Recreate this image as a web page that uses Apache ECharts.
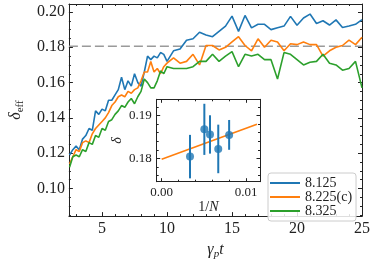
<!DOCTYPE html>
<html><head><meta charset="utf-8">
<script src="https://cdn.jsdelivr.net/npm/echarts@6/dist/echarts.min.js"></script>
<style>html,body{margin:0;padding:0;background:#fff}#c{width:374px;height:265px}</style>
</head><body><div id="c"></div>
<script>
// ---- data ----
const tValues = [2.5,2.75,3,3.25,3.5,3.75,4,4.25,4.5,4.75,5,5.25,5.5,5.75,6,6.25,6.5,6.75,7,7.25,7.5,7.75,8,8.25,8.5,8.75,9,9.25,9.5,9.75,10,
  10.5,11,11.5,12,12.5,13,13.5,14,14.5,15,15.5,16,16.5,17,17.5,18,18.5,19,19.5,20,20.5,21,21.5,22,22.5,23,23.5,24,24.5,25];
const delta8125 = [0.119,0.122,0.124,0.122,0.128,0.130,0.134,0.133,0.144,0.142,0.145,0.144,0.150,0.150,0.153,0.156,0.163,0.156,0.161,0.158,0.165,0.160,0.158,0.166,0.175,0.173,0.175,0.174,0.177,0.176,0.172,
  0.178,0.179,0.184,0.1848,0.1885,0.187,0.186,0.189,0.192,0.1976,0.189,0.198,0.191,0.193,0.193,0.190,0.191,0.192,0.1975,0.1925,0.1966,0.1988,0.1935,0.195,0.1926,0.1955,0.1912,0.192,0.193,0.1956];
const delta8225 = [0.114,0.118,0.122,0.121,0.126,0.127,0.126,0.131,0.134,0.136,0.138,0.140,0.143,0.147,0.149,0.152,0.153,0.152,0.155,0.154,0.156,0.157,0.161,0.166,0.166,0.172,0.166,0.168,0.165,0.169,0.171,
  0.174,0.171,0.172,0.176,0.170,0.181,0.181,0.1785,0.180,0.183,0.186,0.181,0.178,0.1848,0.180,0.184,0.183,0.178,0.182,0.1815,0.183,0.1815,0.1815,0.175,0.178,0.180,0.181,0.184,0.1815,0.1857];
const delta8325 = [0.112,0.118,0.119,0.118,0.122,0.121,0.126,0.125,0.130,0.129,0.134,0.133,0.138,0.139,0.142,0.144,0.147,0.146,0.149,0.151,0.148,0.152,0.155,0.162,0.160,0.157,0.157,0.161,0.1666,0.165,0.169,
  0.168,0.168,0.168,0.169,0.172,0.172,0.176,0.172,0.175,0.1775,0.169,0.176,0.175,0.176,0.173,0.173,0.162,0.177,0.176,0.173,0.170,0.1715,0.172,0.176,0.171,0.170,0.167,0.168,0.172,0.157];
const seriesNames = ['8.125','8.225(c)','8.325'];
const refLevel = 0.1806;
const refSpan = [2.45, 25];

const insetInvN = [0.00336,0.00506,0.00573,0.00671,0.0080];
const insetDelta = [0.1804,0.1868,0.1856,0.1822,0.1855];
const insetErr = [0.0051,0.0060,0.0045,0.0057,0.0035];
const fitInvN = [0, 0.0113];
const fitDelta = [0.1798, 0.1880];

// tick labels / tick positions
const xMajorMain = [5,10,15,20,25];
const xMinorMain = [3,4,6,7,8,9,11,12,13,14,16,17,18,19,21,22,23,24];
const yMajorMain = [0.10,0.12,0.14,0.16,0.18,0.20];
const yMinorMain = [0.085,0.09,0.095,0.105,0.11,0.115,0.125,0.13,0.135,0.145,0.15,0.155,0.165,0.17,0.175,0.185,0.19,0.195];
const xMajorInset = [0, 0.01];
const xMinorInset = [0.002,0.004,0.006,0.008];
const yMajorInset = [0.18, 0.19];
const yMinorInset = [0.176,0.178,0.182,0.184,0.186,0.188,0.192];

// ---- chart ----
const FONT = 'Liberation Serif';
const INK = '#222';
const COLORS = ['#1f77b4','#ff7f0e','#2ca02c'];
const chart = echarts.init(document.getElementById('c'), null, {renderer:'canvas'});

function ax(grid, pos, min, max, ticks, len, opt) {
  opt = opt || {};
  const a = {
    type:'value', gridIndex:grid, position:pos, min:min, max:max, z: opt.z || 0,
    axisLine:{show:!!opt.line, onZero:false, lineStyle:{color:INK, width:1}},
    axisTick:{show:true, inside:true, length:len, customValues:ticks, lineStyle:{color:INK, width:1}},
    axisLabel:{show:false},
    splitLine:{show:false}
  };
  if (opt.label) {
    a.axisLabel = Object.assign({show:true, customValues:ticks, fontFamily:FONT, color:INK}, opt.label);
  }
  if (opt.name) Object.assign(a, opt.name);
  return a;
}

const X0 = 2.45, X1 = 25, Y0 = 0.0844, Y1 = 0.2045;
const IX0 = -0.00059, IX1 = 0.01166, IY0 = 0.17451, IY1 = 0.19385;

const xAxes = [
  ax(0,'bottom',X0,X1,xMajorMain,4,{line:true, label:{fontSize:16, margin:5},
     name:{name:'{g|γ}{p|p}{t|t}', nameLocation:'middle', nameGap:17,
       nameTextStyle:{rich:{g:{fontFamily:FONT,fontStyle:'italic',fontSize:16,lineHeight:20,color:INK},
                            p:{fontFamily:FONT,fontStyle:'italic',fontSize:11,lineHeight:12,verticalAlign:'bottom',color:INK},
                            t:{fontFamily:FONT,fontStyle:'italic',fontSize:16,lineHeight:20,color:INK}}}}}),
  ax(0,'bottom',X0,X1,xMinorMain,2),
  ax(0,'top',X0,X1,xMajorMain,4,{line:true}),
  ax(0,'top',X0,X1,xMinorMain,2),
  ax(1,'bottom',IX0,IX1,xMajorInset,3.5,{line:true, z:20, label:{fontSize:13, margin:4, formatter:v=>v.toFixed(2)},
     name:{name:'1/{n|N}', nameLocation:'middle', nameGap:15,
       nameTextStyle:{fontFamily:FONT,fontSize:14,color:INK,lineHeight:16,rich:{n:{fontFamily:FONT,fontStyle:'italic',fontSize:14,lineHeight:16,color:INK}}}}}),
  ax(1,'bottom',IX0,IX1,xMinorInset,2,{z:20}),
  ax(1,'top',IX0,IX1,xMajorInset,3.5,{line:true, z:20}),
  ax(1,'top',IX0,IX1,xMinorInset,2,{z:20})
];
const yAxes = [
  ax(0,'left',Y0,Y1,yMajorMain,4,{line:true, label:{fontSize:16, margin:4, formatter:v=>v.toFixed(2)},
     name:{name:'{d|δ}{s|eff}', nameLocation:'middle', nameGap:30, nameRotate:90,
       nameTextStyle:{rich:{d:{fontFamily:FONT,fontStyle:'italic',fontSize:16,lineHeight:20,color:INK},
                            s:{fontFamily:FONT,fontSize:11,lineHeight:12,verticalAlign:'bottom',color:INK}}}}}),
  ax(0,'left',Y0,Y1,yMinorMain,2),
  ax(0,'right',Y0,Y1,yMajorMain,4,{line:true}),
  ax(0,'right',Y0,Y1,yMinorMain,2),
  ax(1,'left',IY0,IY1,yMajorInset,3.5,{line:true, z:20, label:{fontSize:13, margin:5, formatter:v=>v.toFixed(2)},
     name:{name:'δ', nameLocation:'middle', nameGap:30, nameRotate:90,
       nameTextStyle:{fontFamily:FONT,fontStyle:'italic',fontSize:14,lineHeight:16,color:INK}}}),
  ax(1,'left',IY0,IY1,yMinorInset,2,{z:20}),
  ax(1,'right',IY0,IY1,yMajorInset,3.5,{line:true, z:20}),
  ax(1,'right',IY0,IY1,yMinorInset,2,{z:20})
];

const mainData = [delta8125, delta8225, delta8325];
const series = mainData.map((vals, k) => ({
  name: seriesNames[k], type:'line', xAxisIndex:0, yAxisIndex:0, showSymbol:false, symbol:'none',
  data: tValues.map((t,i) => [t, vals[i]]), color: COLORS[k],
  lineStyle:{width:1.6, color:COLORS[k]}, z:2 + k*0.01
}));
series.unshift({
  name:'ref', type:'line', xAxisIndex:0, yAxisIndex:0, symbol:'none', silent:true,
  data: refSpan.map(t => [t, refLevel]),
  lineStyle:{width:1.5, color:'#9a9a9a', type:[9,4]}, z:1
});
series.push({
  name:'fit', type:'line', xAxisIndex:4, yAxisIndex:4, symbol:'none',
  data: fitInvN.map((x,i) => [x, fitDelta[i]]),
  lineStyle:{width:1.6, color:COLORS[1]}, color:COLORS[1], z:15
});
series.push({
  name:'err', type:'custom', xAxisIndex:4, yAxisIndex:4, z:16,
  data: insetInvN.map((x,i) => [x, insetDelta[i], insetErr[i]]),
  renderItem: function(params, api) {
    const x = api.value(0), y = api.value(1), e = api.value(2);
    const p1 = api.coord([x, y + e]), p2 = api.coord([x, y - e]);
    return {type:'line', shape:{x1:p1[0], y1:p1[1], x2:p2[0], y2:p2[1]}, style:{stroke:COLORS[0], lineWidth:2}};
  }
});
series.push({
  name:'pts', type:'scatter', xAxisIndex:4, yAxisIndex:4, z:17, symbolSize:8,
  data: insetInvN.map((x,i) => [x, insetDelta[i]]),
  itemStyle:{color:COLORS[0]}
});

chart.setOption({
  animation:false,
  backgroundColor:'#fff',
  grid:[
    {left:54, top:4, width:308, height:219.3, show:false},
    {left:156.7, top:99.3, width:103.3, height:82.4, show:true, backgroundColor:'#fff', borderWidth:0, z:10}
  ],
  xAxis:xAxes,
  yAxis:yAxes,
  legend:{
    data:seriesNames, orient:'vertical', left:268, top:173, icon:'rect',
    itemWidth:30, itemHeight:2, itemGap:0,
    padding:[3,4,3,2], backgroundColor:'rgba(255,255,255,0.85)', borderColor:'#cccccc', borderWidth:1, borderRadius:3,
    textStyle:{fontFamily:FONT, fontSize:14, color:INK, lineHeight:13}, z:30
  },
  series:series
});
</script>
</body></html>
